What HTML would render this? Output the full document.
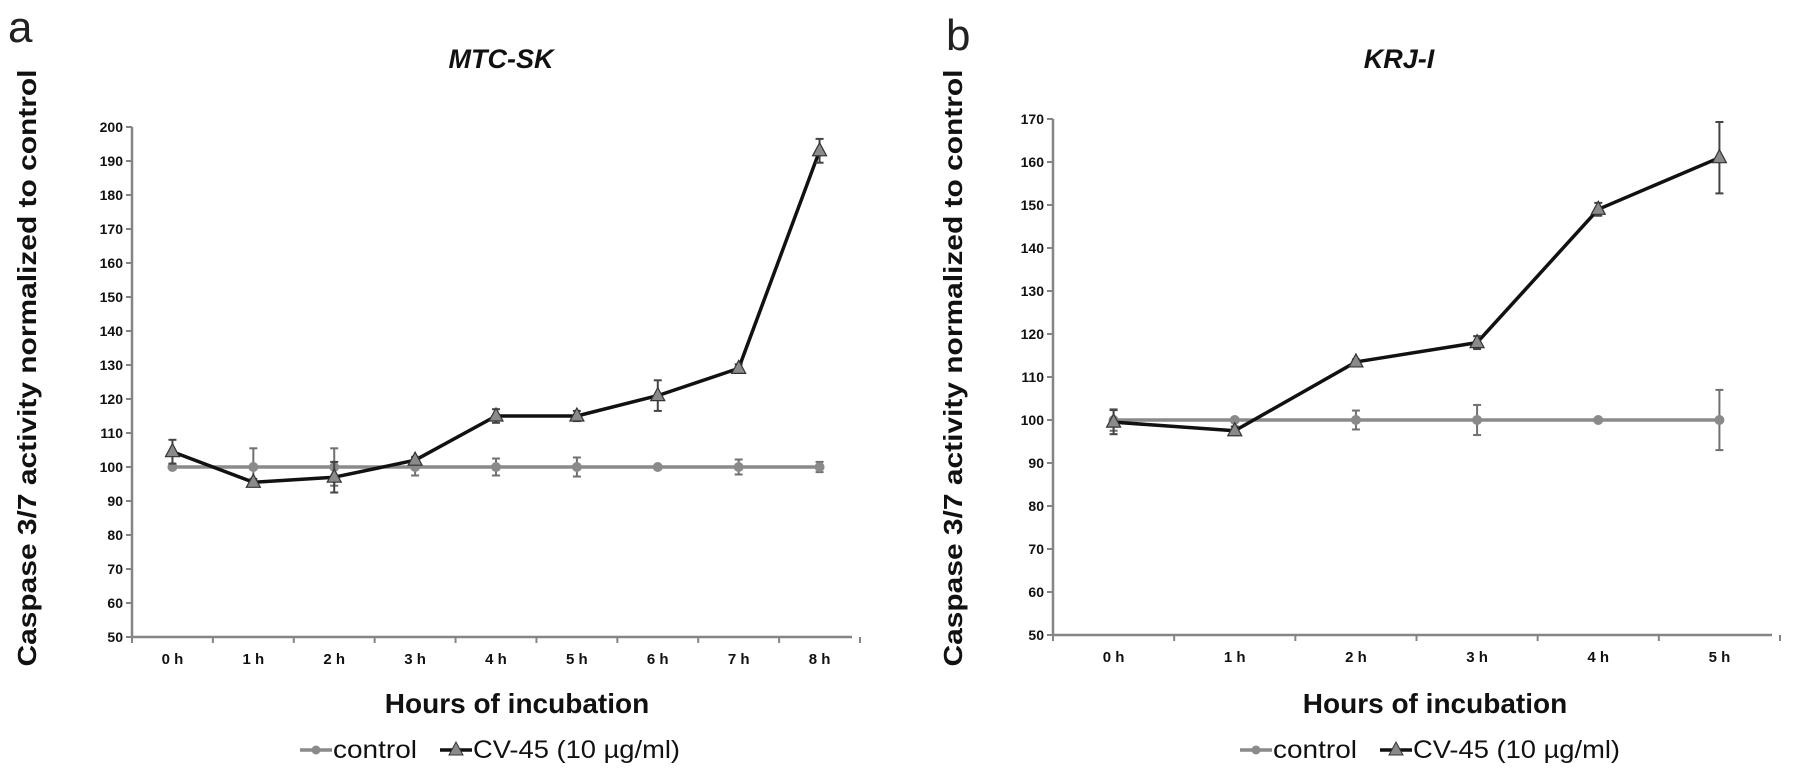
<!DOCTYPE html>
<html><head><meta charset="utf-8"><style>
html,body{margin:0;padding:0;background:#fff;}
svg{display:block;font-family:"Liberation Sans",sans-serif;}
</style></head><body>
<svg id="fig" width="1795" height="781" viewBox="0 0 1795 781" xmlns="http://www.w3.org/2000/svg">
<text x="8" y="42" font-size="44" fill="#222">a</text>
<text x="946" y="50" font-size="44" fill="#222">b</text>
</svg>
<script>
// Panel a (MTC-SK)
const catsA = ["0 h","1 h","2 h","3 h","4 h","5 h","6 h","7 h","8 h"];
const cvA = [104.5,95.5,97,102,115,115,121,129,193];
const cvErrA = [3.5,1,4.5,1,2,1.5,4.5,1.2,3.5];
const ctlA = [100,100,100,100,100,100,100,100,100];
const ctlErrA = [0,5.5,5.5,2.5,2.5,2.8,0,2.2,1.5];
const yTicksA = [50,60,70,80,90,100,110,120,130,140,150,160,170,180,190,200];
// Panel b (KRJ-I)
const catsB = ["0 h","1 h","2 h","3 h","4 h","5 h"];
const cvB = [99.5,97.5,113.5,118,149,161];
const cvErrB = [2.8,1,0.6,1.5,1.5,8.3];
const ctlB = [100,100,100,100,100,100];
const ctlErrB = [2.5,0,2.2,3.5,0,7];
const yTicksB = [50,60,70,80,90,100,110,120,130,140,150,160,170];

const NS="http://www.w3.org/2000/svg";
const svg=document.getElementById('fig');
function mk(tag,attrs,parent){const e=document.createElementNS(NS,tag);for(const k in attrs)e.setAttribute(k,attrs[k]);(parent||svg).appendChild(e);return e;}

function panel(cfg){
  const g=mk('g',{});
  
  
  const {x0,x1,yBottom,yMin,perUnit,cats}=cfg;
  const band=(x1-x0)/cats.length;
  const X=i=>x0+band*(i+0.5);
  const Y=v=>yBottom-(v-yMin)*perUnit;
  // y axis
  const ya=mk('line',{x1:x0,y1:Y(cfg.yTicks[cfg.yTicks.length-1]),x2:x0,y2:yBottom,stroke:'#858585','stroke-width':2.5},g);
  
  
  cfg.yTicks.forEach(t=>{
    mk('line',{x1:x0-6,y1:Y(t),x2:x0,y2:Y(t),stroke:'#858585','stroke-width':2},g);
    const tx=mk('text',{x:x0-9,y:Y(t)+5,'text-anchor':'end','font-size':14,'font-weight':'bold',fill:'#111'},g);
    tx.textContent=t;
    
    
  });
  const xa=mk('line',{x1:x0,y1:yBottom,x2:x1-8,y2:yBottom,stroke:'#858585','stroke-width':2.5},g);
  
  
  for(let i=0;i<=cats.length;i++){mk('line',{x1:x0+band*i,y1:yBottom,x2:x0+band*i,y2:yBottom+6,stroke:'#858585','stroke-width':2},g);}
  cats.forEach((c,i)=>{
    const tx=mk('text',{x:X(i),y:yBottom+27,'text-anchor':'middle','font-size':15,'font-weight':'bold',fill:'#111'},g);
    tx.textContent=c;
    
    
  });
  // titles
  const t=mk('text',{x:cfg.titleX,y:68,'text-anchor':'middle','font-size':27,'font-weight':'bold','font-style':'italic',fill:'#111'},g);
  t.textContent=cfg.title;
  
  
  const yl=mk('text',{x:0,y:0,transform:`translate(${cfg.ylX},368) rotate(-90)`,'text-anchor':'middle','font-size':26,'font-weight':'bold',fill:'#111',textLength:597,lengthAdjust:'spacingAndGlyphs'},g);
  yl.textContent='Caspase 3/7 activity normalized to control';
  
  
  const xl=mk('text',{x:cfg.xlX,y:713,'text-anchor':'middle','font-size':28,'font-weight':'bold',fill:'#111'},g);
  xl.textContent='Hours of incubation';
  
  
  // error bars
  function err(vals,errs,col){
    vals.forEach((v,i)=>{if(!errs[i])return;
      const e=mk('g',{stroke:col,'stroke-width':2},g);
      
      
      mk('line',{x1:X(i),y1:Y(v+errs[i]),x2:X(i),y2:Y(v-errs[i])},e);
      mk('line',{x1:X(i)-4,y1:Y(v+errs[i]),x2:X(i)+4,y2:Y(v+errs[i])},e);
      mk('line',{x1:X(i)-4,y1:Y(v-errs[i]),x2:X(i)+4,y2:Y(v-errs[i])},e);
    });
  }
  // control
  const cl=mk('polyline',{points:cfg.ctl.map((v,i)=>X(i)+','+Y(v)).join(' '),fill:'none',stroke:'#8a8a8a','stroke-width':3.5},g);
  
  
  err(cfg.ctl,cfg.ctlErr,'#707070');
  cfg.ctl.forEach((v,i)=>{const c=mk('circle',{cx:X(i),cy:Y(v),r:5,fill:'#8a8a8a'},g);
    
    });
  // CV-45
  const pl=mk('polyline',{points:cfg.cv.map((v,i)=>X(i)+','+Y(v)).join(' '),fill:'none',stroke:'#111','stroke-width':3.5,'stroke-linejoin':'round'},g);
  
  
  err(cfg.cv,cfg.cvErr,'#444');
  cfg.cv.forEach((v,i)=>{const x=X(i),y=Y(v);
    const p=mk('polygon',{points:`${x},${y-8} ${x-7},${y+5} ${x+7},${y+5}`,fill:'#8a8a8a',stroke:'#333','stroke-width':1.2},g);
    
    });
  // legend
  const lg=mk('g',{},g);
  
  
  const lx=cfg.legX;
  mk('line',{x1:lx,y1:750,x2:lx+32,y2:750,stroke:'#8a8a8a','stroke-width':3.5},lg);
  mk('circle',{cx:lx+16,cy:750,r:4.5,fill:'#8a8a8a'},lg);
  const lt=mk('text',{x:lx+33,y:758,'font-size':25,fill:'#111',textLength:84,lengthAdjust:'spacingAndGlyphs'},lg);
  lt.textContent='control';
  
  
  mk('line',{x1:lx+140,y1:750,x2:lx+172,y2:750,stroke:'#111','stroke-width':3.5},lg);
  mk('polygon',{points:`${lx+156},${742} ${lx+149},${755} ${lx+163},${755}`,fill:'#8a8a8a',stroke:'#333','stroke-width':1},lg);
  const lt2=mk('text',{x:lx+173,y:758,'font-size':25,fill:'#111',textLength:207,lengthAdjust:'spacingAndGlyphs'},lg);
  lt2.textContent='CV-45 (10 µg/ml)';
  
  
}
panel({name:'chart-mtc-sk',title:'MTC-SK',titleX:501,ylX:36,xlX:517,legX:300,x0:132,x1:860,yBottom:637,yMin:50,perUnit:3.4,cats:catsA,cv:cvA,cvErr:cvErrA,ctl:ctlA,ctlErr:ctlErrA,yTicks:yTicksA});
panel({name:'chart-krj-i',title:'KRJ-I',titleX:1399,ylX:962,xlX:1435,legX:1240,x0:1053,x1:1780,yBottom:635,yMin:50,perUnit:4.3,cats:catsB,cv:cvB,cvErr:cvErrB,ctl:ctlB,ctlErr:ctlErrB,yTicks:yTicksB});
</script>
</body></html>
